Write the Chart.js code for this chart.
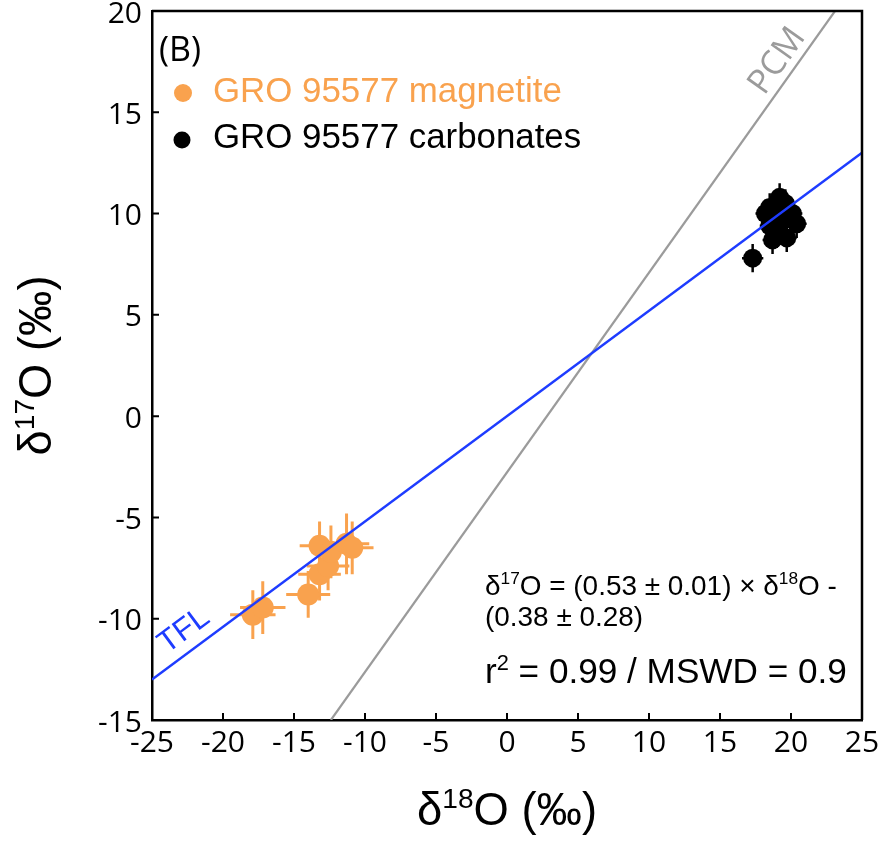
<!DOCTYPE html>
<html>
<head>
<meta charset="utf-8">
<script src="https://cdn.jsdelivr.net/npm/chart.js@4/dist/chart.umd.min.js"></script>
<style>
html,body{margin:0;padding:0;background:#fff;}
canvas{display:block;}
</style>
</head>
<body>
<canvas id="c" width="883" height="844"></canvas>
<script>
// ---- data ----
const magX    = [-17.9, -17.2, -14.0, -13.2, -13.2, -12.6, -12.4, -11.3, -10.9];
const magY    = [-9.8,  -9.45, -8.8,  -6.4,  -7.8,  -7.4,  -6.7,  -6.3,  -6.5];
const magXErr = [1.6,   1.6,   1.55,  1.4,   1.5,   1.5,   1.4,   1.6,   1.5];
const magYErr = [1.2,   1.3,   1.15,  1.2,   1.3,   1.2,   1.3,   1.5,   1.3];

const carbX    = [17.3, 19.2, 18.5, 18.2, 20.1, 20.4, 19.0, 18.7, 19.7, 19.4, 18.5, 19.6, 20.0, 19.1];
const carbY    = [7.8,  10.8, 10.3, 10.0, 10.0, 9.5,  9.0,  8.7,  8.8,  9.65, 9.4,  10.5, 9.9,  10.2];
const carbXErr = [0.75, 0.7,  0.7,  0.7,  0.7,  0.7,  0.7,  0.7,  0.7,  0.7,  0.7,  0.7,  0.7,  0.7];
const carbYErr = [0.7,  0.7,  0.7,  0.7,  0.7,  0.7,  0.7,  0.7,  0.7,  0.7,  0.7,  0.7,  0.7,  0.7];

const tflX = [-25, 25];
const tflY = [-13, 13];
const pcmX = [-12.4, 23.1];
const pcmY = [-15, 20];

const xTicks = [-25, -20, -15, -10, -5, 0, 5, 10, 15, 20, 25];
const yTicks = [-15, -10, -5, 0, 5, 10, 15, 20];

const seriesLabels = ['GRO 95577 magnetite', 'GRO 95577 carbonates'];
const xTitle = [{t:'δ'},{t:'18',sup:true},{t:'O (‰)'}];
const yTitle = [{t:'δ'},{t:'17',sup:true},{t:'O (‰)'}];
const eqLine1 = [{t:'δ'},{t:'17',sup:true},{t:'O = (0.53 ± 0.01) × δ'},{t:'18',sup:true},{t:'O -'}];
const eqLine2 = [{t:'(0.38 ± 0.28)'}];
const eqLine3 = [{t:'r'},{t:'2',sup:true},{t:' = 0.99 / MSWD = 0.9'}];

const ORANGE = '#F9A24E';
const BLUE = '#1E3CFF';
const GREY = '#9B9B9B';

const pts = (xs, ys) => xs.map((x, i) => ({x: x, y: ys[i]}));

function drawRich(ctx, segs, x, y, size, family) {
  let cx = x;
  for (const s of segs) {
    if (s.sup) {
      ctx.font = (size * 0.62) + 'px ' + family;
      ctx.fillText(s.t, cx, y - size * 0.38);
    } else {
      ctx.font = size + 'px ' + family;
      ctx.fillText(s.t, cx, y);
    }
    cx += ctx.measureText(s.t).width;
  }
  return cx - x;
}
function richWidth(ctx, segs, size, family) {
  let w = 0;
  for (const s of segs) {
    ctx.font = (s.sup ? size * 0.62 : size) + 'px ' + family;
    w += ctx.measureText(s.t).width;
  }
  return w;
}
// font size that makes segs span a given width
function fitSize(ctx, segs, width, family) {
  return 40 * width / richWidth(ctx, segs, 40, family);
}

const errorBars = {
  id: 'errorBars',
  beforeDatasetsDraw(chart) {
    const {ctx, scales: {x, y}} = chart;
    const sets = [
      {xs: magX, ys: magY, ex: magXErr, ey: magYErr, c: ORANGE, w: 3},
      {xs: carbX, ys: carbY, ex: carbXErr, ey: carbYErr, c: '#000', w: 2.5}
    ];
    ctx.save();
    for (const s of sets) {
      ctx.strokeStyle = s.c; ctx.lineWidth = s.w;
      for (let i = 0; i < s.xs.length; i++) {
        const px = x.getPixelForValue(s.xs[i]), py = y.getPixelForValue(s.ys[i]);
        ctx.beginPath();
        ctx.moveTo(x.getPixelForValue(s.xs[i] - s.ex[i]), py);
        ctx.lineTo(x.getPixelForValue(s.xs[i] + s.ex[i]), py);
        ctx.moveTo(px, y.getPixelForValue(s.ys[i] - s.ey[i]));
        ctx.lineTo(px, y.getPixelForValue(s.ys[i] + s.ey[i]));
        ctx.stroke();
      }
    }
    ctx.restore();
  }
};

const frame = {
  id: 'frame',
  afterDraw(chart) {
    const {ctx, chartArea: a, scales: {x, y}} = chart;
    ctx.save();
    ctx.strokeStyle = '#000';
    ctx.lineWidth = 2.5;
    ctx.beginPath();
    ctx.moveTo(a.left, a.top); ctx.lineTo(a.right, a.top); ctx.lineTo(a.right, a.bottom);
    ctx.stroke();
    ctx.lineWidth = 2;
    ctx.beginPath();
    for (const v of xTicks) {
      const px = x.getPixelForValue(v);
      ctx.moveTo(px, a.bottom); ctx.lineTo(px, a.bottom - 7);
    }
    for (const v of yTicks) {
      const py = y.getPixelForValue(v);
      ctx.moveTo(a.left, py); ctx.lineTo(a.left + 7, py);
    }
    ctx.stroke();

    const lf = '"Liberation Sans", Arial, sans-serif';
    // axis titles
    ctx.fillStyle = '#000';
    ctx.textBaseline = 'alphabetic';
    ctx.textAlign = 'left';
    const ts = fitSize(ctx, xTitle, 180, lf);
    const xw = richWidth(ctx, xTitle, ts, lf);
    drawRich(ctx, xTitle, (a.left + a.right) / 2 - xw / 2, 825, ts, lf);
    ctx.save();
    ctx.translate(51, (a.top + a.bottom) / 2);
    ctx.rotate(-Math.PI / 2);
    const yw = richWidth(ctx, yTitle, ts, lf);
    drawRich(ctx, yTitle, -yw / 2, 0, ts, lf);
    ctx.restore();

    // panel label
    ctx.font = '34px "Open Sans", sans-serif';
    ctx.fillText('(B)', 159, 61);

    // legend
    const ls = fitSize(ctx, [{t: seriesLabels[0]}], 349, lf);
    ctx.fillStyle = ORANGE;
    ctx.beginPath(); ctx.arc(183, 93, 9, 0, Math.PI * 2); ctx.fill();
    ctx.font = ls + 'px ' + lf;
    ctx.fillText(seriesLabels[0], 213, 102);
    ctx.fillStyle = '#000';
    ctx.beginPath(); ctx.arc(182, 140, 8.5, 0, Math.PI * 2); ctx.fill();
    ctx.fillText(seriesLabels[1], 213, 148);

    // equation
    const es = fitSize(ctx, eqLine1, 352, lf);
    drawRich(ctx, eqLine1, 485, 595, es, lf);
    drawRich(ctx, eqLine2, 485, 626, es, lf);
    const rs = fitSize(ctx, eqLine3, 362, lf);
    drawRich(ctx, eqLine3, 485, 683, rs, lf);

    // line labels
    const lineLabel = (txt, xs, ys, atX, off, color, size, fam) => {
      const p0x = x.getPixelForValue(xs[0]), p0y = y.getPixelForValue(ys[0]);
      const p1x = x.getPixelForValue(xs[1]), p1y = y.getPixelForValue(ys[1]);
      const ang = Math.atan2(p1y - p0y, p1x - p0x);
      const t = (atX - p0x) / (p1x - p0x);
      const ax = atX, ay = p0y + t * (p1y - p0y);
      const nx = Math.sin(ang), ny = -Math.cos(ang);
      ctx.save();
      ctx.translate(ax + nx * off, ay + ny * off);
      ctx.rotate(ang);
      ctx.fillStyle = color;
      ctx.font = size + 'px ' + fam;
      ctx.textAlign = 'center';
      ctx.textBaseline = 'middle';
      ctx.fillText(txt, 0, 0);
      ctx.restore();
    };
    lineLabel('PCM', pcmX, pcmY, 792, 18, GREY, 34, '"Open Sans", sans-serif');
    lineLabel('TFL', tflX, tflY, 196, 20, BLUE, 31, lf);
    ctx.restore();
  }
};

new Chart(document.getElementById('c'), {
  type: 'scatter',
  data: {
    datasets: [
      {label: 'TFL', type: 'line', data: pts(tflX, tflY), borderColor: BLUE, borderWidth: 2.5,
       pointRadius: 0, fill: false, order: 0, clip: 0},
      {label: 'PCM', type: 'line', data: pts(pcmX, pcmY), borderColor: GREY, borderWidth: 2.2,
       pointRadius: 0, fill: false, order: 0, clip: 0},
      {label: seriesLabels[0], data: pts(magX, magY), backgroundColor: ORANGE, borderWidth: 0,
       pointRadius: 11, order: 2},
      {label: seriesLabels[1], data: pts(carbX, carbY), backgroundColor: '#000', borderWidth: 0,
       pointRadius: 9.5, order: 2}
    ]
  },
  options: {
    responsive: false,
    animation: false,
    layout: {padding: {left: 0, top: 10, right: 21, bottom: 0}},
    plugins: {legend: {display: false}, tooltip: {enabled: false}},
    scales: {
      x: {
        type: 'linear', min: -25, max: 25,
        afterBuildTicks(s) { s.ticks = xTicks.map(v => ({value: v})); },
        ticks: {color: '#000', font: {family: '"Open Sans", sans-serif', size: 30}, padding: 5,
                maxRotation: 0, autoSkip: false},
        grid: {drawOnChartArea: false, drawTicks: false},
        border: {display: true, color: '#000', width: 2.5},
        afterFit(s) { s.height = 124; s.paddingLeft = 0; s.paddingRight = 0; }
      },
      y: {
        type: 'linear', min: -15, max: 20,
        afterBuildTicks(s) { s.ticks = yTicks.map(v => ({value: v})); },
        ticks: {color: '#000', font: {family: '"Open Sans", sans-serif', size: 30}, padding: 10,
                labelOffset: 3, autoSkip: false},
        grid: {drawOnChartArea: false, drawTicks: false},
        border: {display: true, color: '#000', width: 2.5},
        afterFit(s) { s.width = 152; s.paddingTop = 0; s.paddingBottom = 0; }
      }
    }
  },
  plugins: [errorBars, frame]
});
</script>
</body>
</html>
